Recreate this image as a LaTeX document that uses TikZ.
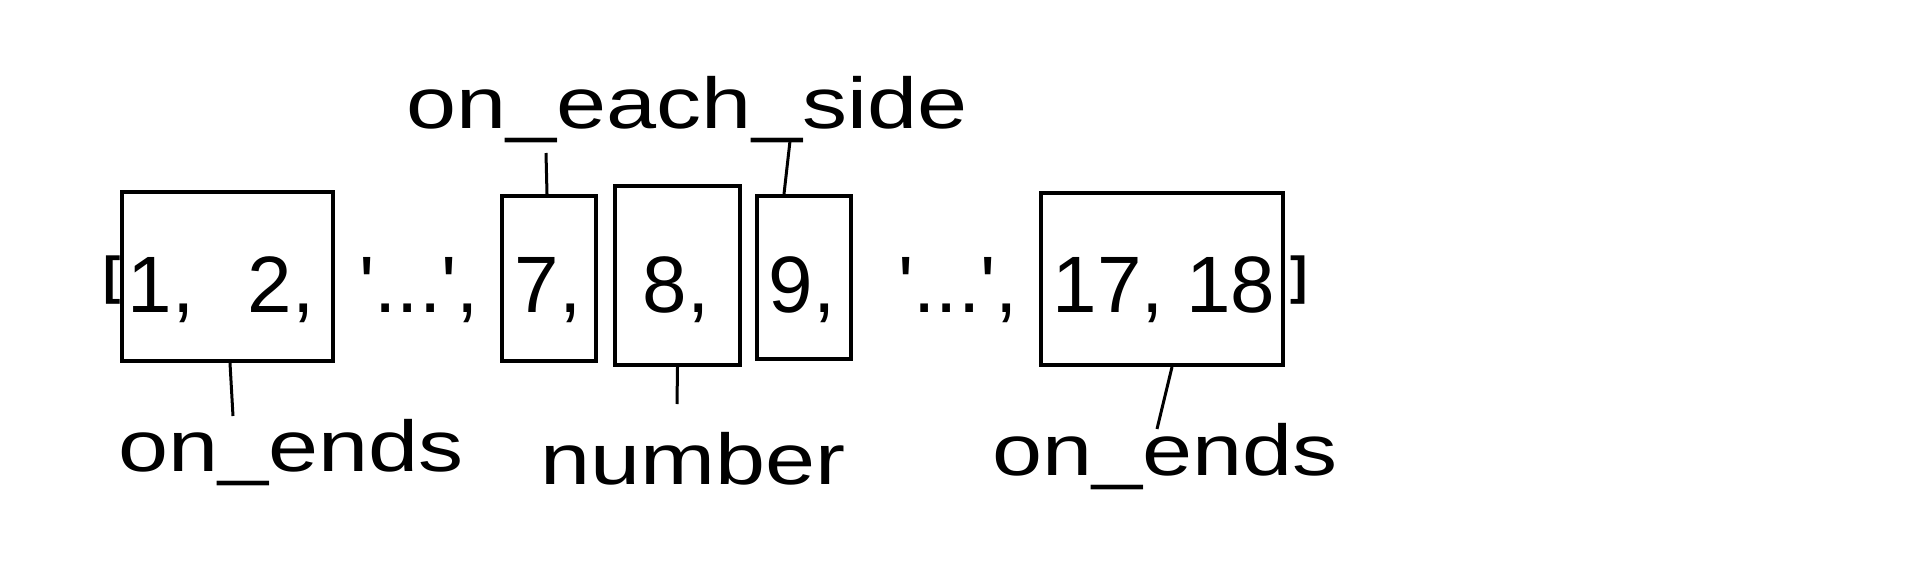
\documentclass[tikz,border=0pt]{standalone}
\usepackage{fontspec}
\newfontfamily\digs{Liberation Sans}
\newfontfamily\hand[FakeStretch=1.25]{Liberation Sans}
\begin{document}
\begin{tikzpicture}[x=1pt,y=-1pt]
\tikzset{
 box/.style={draw, line width=4pt, inner sep=0pt},
 num/.style={font=\digs\fontsize{80}{84}\selectfont, anchor=base, inner sep=0pt},
 brk/.style={font=\digs\bfseries\fontsize{52}{56}\selectfont, anchor=base, inner sep=0pt},
 lab/.style={font=\hand\fontsize{72}{76}\selectfont, anchor=base, inner sep=0pt},
 conn/.style={line width=3pt}
}
\useasboundingbox[fill=white] (0,0) rectangle (1920,560);
% boxes
\node[box, minimum width=211pt, minimum height=169pt] (b1) at (227.5,276.5) {};
\node[box, minimum width=94pt, minimum height=165pt] (b7) at (549,278.5) {};
\node[box, minimum width=125pt, minimum height=179pt] (b8) at (677.5,275.5) {};
\node[box, minimum width=94pt, minimum height=163pt] (b9) at (804,277.5) {};
\node[box, minimum width=242pt, minimum height=172pt] (b17) at (1162,279) {};
% list text
\node[brk] (lb) at (112,293) {[};
\node[num] (t1) at (161,312) {1,};
\node[num] (t2) at (281,312) {2,};
\node[num] (e1) at (419,312) {'...',};
\node[num] (t7) at (548,312) {7,};
\node[num] (t8) at (676,312) {8,};
\node[num] (t9) at (802,312) {9,};
\node[num] (e2) at (958,312) {'...',};
\node[num] (t17) at (1164,312) {17, 18};
\node[brk] (rb) at (1299,293) {]};
% labels
\node[lab] (ls) at (687,128) {on\_each\_side};
\node[lab] (le1) at (291,471) {on\_ends};
\node[lab] (ln) at (693,484) {number};
\node[lab] (le2) at (1165,475) {on\_ends};
% connector ends
\coordinate (c7) at (546,153);
\coordinate (c9) at (790,141);
\coordinate (c1) at (233,416);
\coordinate (c8) at (677,404);
\coordinate (c17) at (1157,429);
\draw[conn] ([xshift=-2pt]b7.north) -- (c7);
\draw[conn] ([xshift=-20pt]b9.north) -- (c9);
\draw[conn] ([xshift=2.5pt]b1.south) -- (c1);
\draw[conn] (b8.south) -- (c8);
\draw[conn] ([xshift=10pt]b17.south) -- (c17);
\end{tikzpicture}
\end{document}
